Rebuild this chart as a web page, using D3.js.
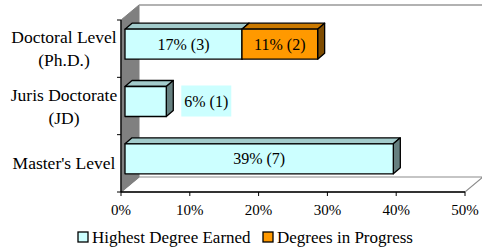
<!DOCTYPE html>
<html>
<head>
<meta charset="utf-8">
<script src="https://cdn.jsdelivr.net/npm/d3@7"></script>
<style>
  body { margin: 0; background: #fff; }
</style>
</head>
<body>
<div id="chart"></div>
<script>
// chart data, top category first
var categories    = ['Doctoral Level|(Ph.D.)', 'Juris Doctorate|(JD)', "Master's Level"];
var earnedPct     = [17, 6, 39];
var earnedCount   = [3, 1, 7];
var progressPct   = [11, 0, 0];
var progressCount = [2, 0, 0];
var xTicks        = [0, 10, 20, 30, 40, 50];
var seriesNames   = ['Highest Degree Earned', 'Degrees in Progress'];

var WIDTH = 482, HEIGHT = 251;
var FONT = 'Liberation Serif';
var WALL_DX = 18, WALL_DY = -15;   // depth of the 3d box
var BAR_OX = 4, BAR_OY = -4.5;     // bar front plane offset from the axis plane
var BAR_DX = 7, BAR_DY = -6;       // bar depth
var BAR_H = 30;

var colors = {
    earned   : { front : '#CCFFFF', top : '#A3CCCC', side : '#668080' },
    progress : { front : '#FF9900', top : '#CC7A00', side : '#7F4C00' }
};

var svg = d3.select('#chart')
            .append('svg')
            .attr('width', WIDTH)
            .attr('height', HEIGHT);

var x = d3.scaleLinear().domain([0, 50]).range([121, 465]);
var y = d3.scaleBand().domain(categories).range([20, 192]);

var x0 = x(0), x1 = x(50), yTop = y.range()[0], yBot = y.range()[1];

// walls and floor of the 3d box
svg.append('polygon')
    .attr('points', [[x0, yBot], [x0 + WALL_DX, yBot + WALL_DY], [WIDTH + 1, yBot + WALL_DY], [x1, yBot]].join(' '))
    .attr('fill', '#fff')
    .attr('stroke', '#8c8c8c')
    .attr('stroke-width', 1.2);

svg.append('polygon')
    .attr('points', [[x0, yBot], [x0, yTop], [x0 + WALL_DX, yTop + WALL_DY], [x0 + WALL_DX, yBot + WALL_DY]].join(' '))
    .attr('fill', '#808080')
    .attr('stroke', '#808080');

svg.append('line')
    .attr('x1', x0 + WALL_DX).attr('y1', yTop + WALL_DY)
    .attr('x2', WIDTH).attr('y2', yTop + WALL_DY)
    .attr('stroke', '#999')
    .attr('stroke-width', 1.5);

// one face set per bar segment
var segments = [];
categories.forEach(function(c, i) {
    segments.push({ cat : c, start : 0, value : earnedPct[i], count : earnedCount[i], col : colors.earned });
    if (progressPct[i] > 0) {
        segments.push({ cat : c, start : earnedPct[i], value : progressPct[i], count : progressCount[i], col : colors.progress });
    }
});

function box(d) {
    var l = x(d.start) + BAR_OX, r = x(d.start + d.value) + BAR_OX;
    var t = y(d.cat) + (y.bandwidth() - BAR_H) / 2 + BAR_OY, b = t + BAR_H;
    return { l : l, r : r, t : t, b : b };
}

var bars = svg.selectAll('g.bar')
    .data(segments)
    .enter()
    .append('g')
    .attr('class', 'bar')
    .attr('stroke', '#000')
    .attr('stroke-width', 1.3)
    .attr('stroke-linejoin', 'round');

bars.append('polygon') // top face
    .attr('points', function(d) { var k = box(d);
        return [[k.l, k.t], [k.l + BAR_DX, k.t + BAR_DY], [k.r + BAR_DX, k.t + BAR_DY], [k.r, k.t]].join(' '); })
    .attr('fill', function(d) { return d.col.top; });

bars.append('polygon') // side face
    .attr('points', function(d) { var k = box(d);
        return [[k.r, k.t], [k.r + BAR_DX, k.t + BAR_DY], [k.r + BAR_DX, k.b + BAR_DY], [k.r, k.b]].join(' '); })
    .attr('fill', function(d) { return d.col.side; });

bars.append('rect') // front face
    .attr('x', function(d) { return box(d).l; })
    .attr('y', function(d) { return box(d).t; })
    .attr('width', function(d) { var k = box(d); return k.r - k.l; })
    .attr('height', BAR_H)
    .attr('fill', function(d) { return d.col.front; });

// data labels, inside the bar when it fits, else to the right with a fill
segments.forEach(function(d) {
    var k = box(d);
    var label = d.value + '% (' + d.count + ')';
    var inside = (k.r - k.l) > 60;
    var cx = inside ? (k.l + k.r) / 2 : k.r + BAR_DX + 33;
    var cy = (k.t + k.b) / 2;
    if (!inside) {
        svg.append('rect')
            .attr('x', cx - 25).attr('y', cy - 16)
            .attr('width', 50).attr('height', 31)
            .attr('fill', d.col.front);
    }
    svg.append('text')
        .attr('x', cx).attr('y', cy)
        .attr('dy', '0.35em')
        .attr('text-anchor', 'middle')
        .attr('font-family', FONT)
        .attr('font-size', 16)
        .text(label);
});

// axes
var yAxis = svg.append('g');
yAxis.append('line')
    .attr('x1', x0).attr('y1', yTop).attr('x2', x0).attr('y2', yBot)
    .attr('stroke', '#000').attr('stroke-width', 1.3);
yAxis.selectAll('line.tick')
    .data(categories.map(function(c) { return y(c); }).concat([yBot]))
    .enter()
    .append('line')
    .attr('class', 'tick')
    .attr('x1', x0 - 4).attr('x2', x0)
    .attr('y1', function(d) { return d; }).attr('y2', function(d) { return d; })
    .attr('stroke', '#000');
yAxis.selectAll('text')
    .data(categories)
    .enter()
    .append('text')
    .attr('text-anchor', 'middle')
    .attr('font-family', FONT)
    .attr('font-size', 17.5)
    .each(function(c) {
        var lines = c.split('|');
        var cy = y(c) + y.bandwidth() / 2;
        var startY = cy - (lines.length - 1) * 23 / 2;
        d3.select(this).selectAll('tspan')
            .data(lines)
            .enter()
            .append('tspan')
            .attr('x', 64)
            .attr('y', function(l, i) { return startY + i * 23; })
            .attr('dy', '0.35em')
            .text(function(l) { return l; });
    });

var xAxis = svg.append('g');
xAxis.append('line')
    .attr('x1', x0).attr('y1', yBot).attr('x2', x1).attr('y2', yBot)
    .attr('stroke', '#000').attr('stroke-width', 1.3);
xAxis.selectAll('line.tick')
    .data(xTicks)
    .enter()
    .append('line')
    .attr('class', 'tick')
    .attr('x1', function(d) { return x(d); }).attr('x2', function(d) { return x(d); })
    .attr('y1', yBot).attr('y2', yBot + 4)
    .attr('stroke', '#000');
xAxis.selectAll('text')
    .data(xTicks)
    .enter()
    .append('text')
    .attr('x', function(d) { return x(d); })
    .attr('y', 210)
    .attr('dy', '0.35em')
    .attr('text-anchor', 'middle')
    .attr('font-family', FONT)
    .attr('font-size', 15)
    .text(function(d) { return d + '%'; });

// legend
var legend = svg.append('g');
var legendX = [78, 263];
legend.selectAll('rect')
    .data(seriesNames)
    .enter()
    .append('rect')
    .attr('x', function(d, i) { return legendX[i]; })
    .attr('y', 232)
    .attr('width', 10).attr('height', 10)
    .attr('fill', function(d, i) { return i ? colors.progress.front : colors.earned.front; })
    .attr('stroke', '#000')
    .attr('stroke-width', 1.3);
legend.selectAll('text')
    .data(seriesNames)
    .enter()
    .append('text')
    .attr('x', function(d, i) { return legendX[i] + 14; })
    .attr('y', 237.5)
    .attr('dy', '0.35em')
    .attr('font-family', FONT)
    .attr('font-size', 17)
    .text(function(d) { return d; });
</script>
</body>
</html>
